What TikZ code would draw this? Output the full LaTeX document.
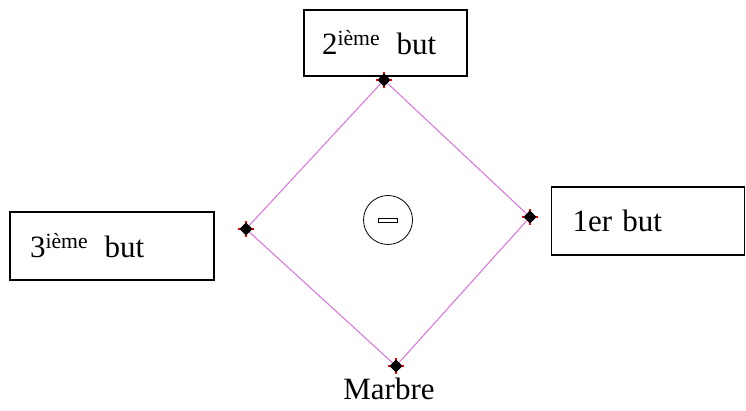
\documentclass[tikz,border=0pt]{standalone}
\usepackage{fontspec}
\setmainfont{Liberation Serif}
\usetikzlibrary{shapes.geometric}
\definecolor{lignerose}{RGB}{222,110,222}
\begin{document}
\begin{tikzpicture}[x=1pt, y=1pt,
    butbox/.style={rectangle, draw, line width=1.6pt, inner xsep=0pt,
      inner ysep=0pt, align=left},
    base/.style={diamond, fill=black, inner sep=0pt, minimum size=13pt}]
    \useasboundingbox (0,0) rectangle (746,411);
    \fontsize{31}{34}\selectfont

    % les bases
    \begin{scope}[every node/.style={base}]
      \node (b2) at (384,331) {}; \node (b3) at (246,182) {};
      \node (b1) at (530,194) {}; \node (m) at (396,45) {};
    \end{scope}
    \begin{scope}[lignerose, line width=1pt]
      \draw (m) -- (b1); \draw (b1) -- (b2); \draw (b2) -- (b3);
      \draw (b3) -- (m);
    \end{scope}
    \foreach \v in {b1,b2,b3,m} {
      \draw[red, line width=1.5pt] ([xshift=-8pt]\v.center) --
      ([xshift=8pt]\v.center); \draw[red, line width=1.5pt]
      ([yshift=-8pt]\v.center) -- ([yshift=8pt]\v.center);
      \node[base] at (\v) {};
    }

    % monticule
    \node[circle, draw, line width=0.8pt, minimum size=49pt] (c) at
    (388,191) {}; \node[rectangle, draw, line width=0.8pt, minimum
    width=19pt, minimum height=4pt, inner sep=0pt] (p) at (c) {};

    % cadres
    \node[butbox, minimum width=163pt, minimum height=66pt,
    text width=127pt] (B2) at (385.5,368)
    {2\textsuperscript{ième}\hspace{6pt} but};
    \node[butbox, minimum width=204pt, minimum height=68pt,
    text width=164pt] (B3) at (112,165)
    {3\textsuperscript{ième}\hspace{6pt} but};
    \node[butbox, minimum width=193pt, minimum height=68pt,
    text width=151pt] (B1) at (648,190) {1er but};

    \node (mt) at (389,22) {Marbre};
  \end{tikzpicture}
\end{document}
